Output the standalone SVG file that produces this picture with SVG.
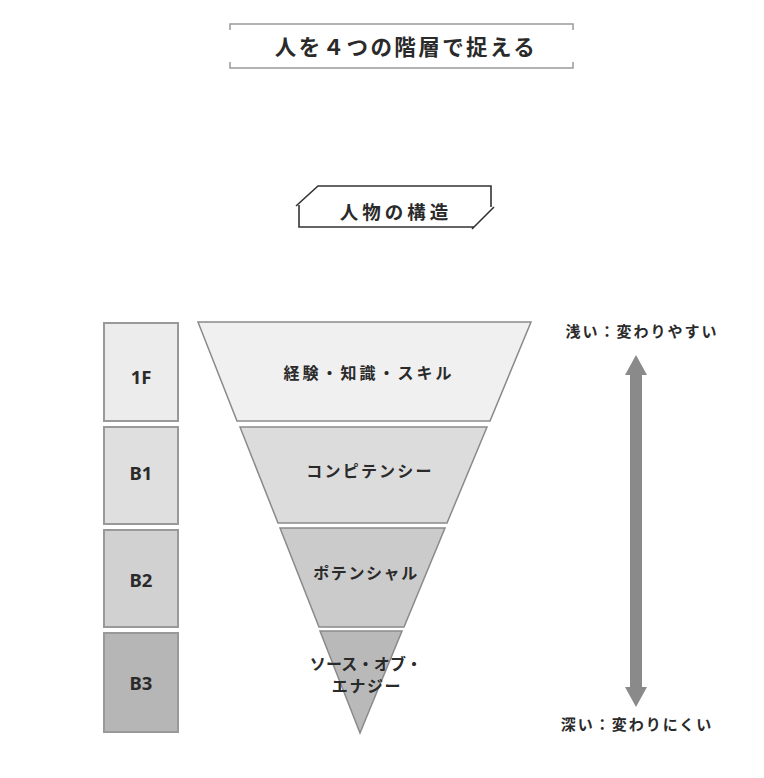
<svg xmlns="http://www.w3.org/2000/svg" width="764" height="778" viewBox="0 0 764 778">
<style>
.jp{font-family:"Noto Sans CJK JP","Noto Sans",sans-serif;font-weight:bold;fill:#2a2a2a;text-anchor:middle}
.lat{font-family:"Noto Sans","Liberation Sans",sans-serif;font-weight:bold;fill:#2a2a2a;text-anchor:middle;font-size:18.5px}
.frame{fill:none;stroke:#9a9a9a;stroke-width:1.5}
.frame2{fill:none;stroke:#333;stroke-width:1.6}
.tier{stroke:#8a8a8a;stroke-width:1.5}
.box{stroke:#999;stroke-width:2}
</style>
<rect width="764" height="778" fill="#fff"/>
<g id="title">
<path class="frame" d="M230,30 V24 H573 V30 M230,62 V68 H573 V62"/>
<text class="jp" x="406" y="55" font-size="21.5" letter-spacing="2.4">人を４つの階層で捉える</text>
</g>
<g id="subtitle">
<path class="frame2" d="M296,206 L318,186 H491 V207 M299,205 V227 H474 M472,229 L494,207"/>
<text class="jp" x="396" y="219" font-size="18.5" letter-spacing="4">人物の構造</text>
</g>
<g id="floor-1F">
<rect class="box" x="104" y="323" width="74" height="98" fill="#ececec"/>
<text class="lat" x="141" y="384">1F</text>
</g>
<g id="floor-B1">
<rect class="box" x="104" y="427" width="74" height="97" fill="#dfdfdf"/>
<text class="lat" x="141" y="480">B1</text>
</g>
<g id="floor-B2">
<rect class="box" x="104" y="530" width="74" height="97" fill="#d1d1d1"/>
<text class="lat" x="141" y="587">B2</text>
</g>
<g id="floor-B3">
<rect class="box" x="104" y="633" width="74" height="99" fill="#b6b6b6"/>
<text class="lat" x="141" y="690">B3</text>
</g>
<g id="tier-1">
<polygon class="tier" points="198,322 531,322 490,421 237,421" fill="#f0f0f0"/>
<text class="jp" x="369" y="379" font-size="16" letter-spacing="3">経験・知識・スキル</text>
</g>
<g id="tier-2">
<polygon class="tier" points="240,427 487,427 447,523 278,523" fill="#dcdcdc"/>
<text class="jp" x="370" y="477" font-size="16" letter-spacing="2.2">コンピテンシー</text>
</g>
<g id="tier-3">
<polygon class="tier" points="280,528 445,528 404,627 319,627" fill="#cbcbcb"/>
<text class="jp" x="366" y="579" font-size="16" letter-spacing="1.6">ポテンシャル</text>
</g>
<g id="tier-4">
<polygon class="tier" points="320,631 402,631 360,733" fill="#b9b9b9"/>
<text class="jp" x="366" y="670" font-size="16" letter-spacing="0.2">ソース・オブ・</text>
<text class="jp" x="367" y="692" font-size="16" letter-spacing="1.6">エナジー</text>
</g>
<g id="connectors">
<path d="M636,355 L647,375 H642 V687 H647 L636,707 L625,687 H630 V375 H625 Z" fill="#8a8a8a"/>
</g>
<g id="labels">
<text class="jp" x="642" y="337" font-size="15" letter-spacing="2">浅い：変わりやすい</text>
<text class="jp" x="637" y="730" font-size="15" letter-spacing="2">深い：変わりにくい</text>
</g>
</svg>
